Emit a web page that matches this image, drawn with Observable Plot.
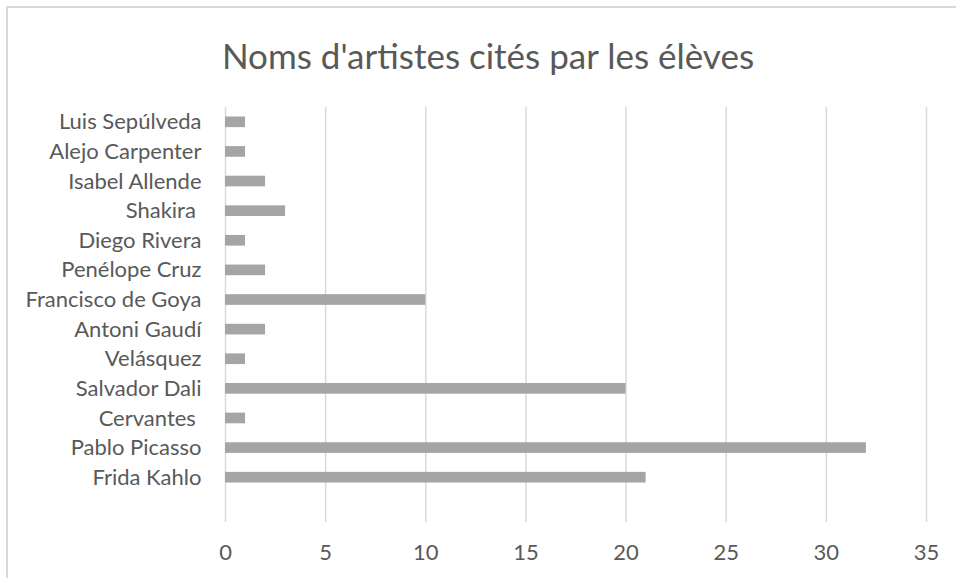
<!DOCTYPE html>
<html>
<head>
<meta charset="utf-8">
<script src="https://cdn.jsdelivr.net/npm/d3@7"></script>
<script src="https://cdn.jsdelivr.net/npm/@observablehq/plot@0.6"></script>
<style>
  html, body { margin: 0; padding: 0; background: #fff; overflow: hidden; width: 956px; height: 578px; }
  #frame { position: absolute; left: 6px; top: 6px; width: 1000px; height: 1000px; border: 2px solid #d9d9d9; box-sizing: border-box; z-index: 0; }
  #wrap { position: relative; z-index: 1; }
  #title { height: 95px; box-sizing: border-box; padding-top: 38px; padding-left: 20px; width: 956px; text-align: center;
           font-family: Lato, sans-serif; font-size: 35px; line-height: 35px; color: #595959; white-space: nowrap; }
  #chart svg { display: block; }
</style>
</head>
<body>
<div id="frame"></div>
<div id="wrap">
  <div id="title">Noms d'artistes cités par les élèves</div>
  <div id="chart"></div>
</div>
<script>
const artists = ["Frida Kahlo", "Pablo Picasso", "Cervantes ", "Salvador Dali", "Velásquez", "Antoni Gaudí",
  "Francisco de Goya", "Penélope Cruz", "Diego Rivera", "Shakira ", "Isabel Allende", "Alejo Carpenter", "Luis Sepúlveda"];
const counts = [21, 32, 1, 20, 1, 2, 10, 2, 1, 3, 2, 1, 1];
const xTicks = [0, 5, 10, 15, 20, 25, 30, 35];

const data = artists.map((name, i) => ({name, count: counts[i]}));
const order = artists.slice().reverse();

const chart = Plot.plot({
  width: 956,
  height: 483,
  marginTop: 12,
  marginBottom: 56,
  marginLeft: 225,
  marginRight: 30,
  style: {fontFamily: "Lato, sans-serif", fontSize: "22px", color: "#595959", background: "transparent", whiteSpace: "pre", overflow: "visible"},
  x: {domain: [0, 35], ticks: xTicks, label: null},
  y: {domain: order, paddingInner: 0.64, paddingOuter: 0.32, insetBottom: 30, round: false, label: null},
  marks: [
    Plot.ruleX(xTicks, {stroke: "#d9d9d9", strokeWidth: 1.5}),
    Plot.barX(data, {x: "count", y: "name", fill: "#a5a5a5"}),
    Plot.axisX({ticks: xTicks, tickSize: 0, tickPadding: 22, label: null}),
    Plot.axisY({tickSize: 0, tickPadding: 24, label: null})
  ]
});
document.getElementById("chart").appendChild(chart);
</script>
</body>
</html>
